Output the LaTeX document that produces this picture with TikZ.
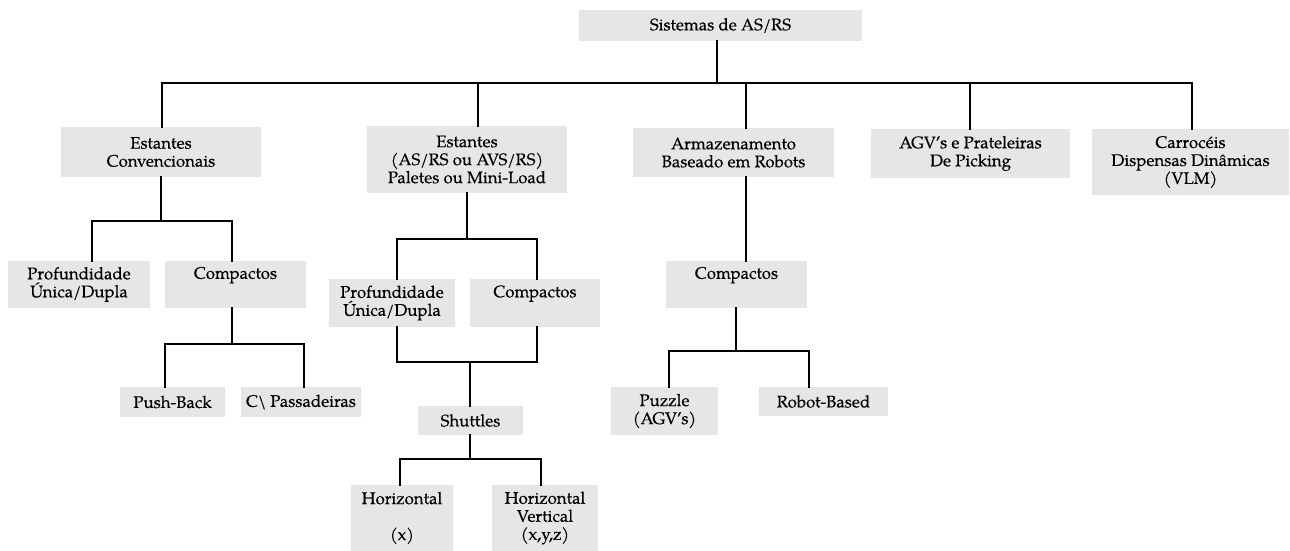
\documentclass[tikz,border=0pt]{standalone}
\usepackage{fontspec}
\setmainfont{texgyrepagella-regular.otf}[FakeBold=0.3]
\definecolor{boxgray}{RGB}{230,230,230}
\tikzset{
  box/.style={fill=boxgray, inner sep=0pt, align=center,
    font=\fontsize{16.8}{18}\selectfont},
  link/.style={line width=2.5pt, line join=miter, line cap=rect}
}
\newcommand{\bx}[6]{% name, cx, cy, w, h, text
  \node[box, minimum width=#4pt, minimum height=#5pt] (#1) at (#2,#3) {#6};}
\begin{document}
\begin{tikzpicture}[x=1pt,y=-1pt]
\useasboundingbox (0,0) rectangle (1290,551);
% level 0
\bx{root}{720.5}{25.5}{283}{31}{Sistemas de AS/RS}
% level 1
\bx{ec}{161}{152}{200}{50}{Estantes\\Convencionais}
\bx{es}{467}{159.5}{200}{67}{Estantes\\(AS/RS ou AVS/RS)\\Paletes ou Mini-Load}
\bx{ar}{733.5}{152.5}{201}{49}{Armazenamento\\Baseado em Robots}
\bx{agv}{970.5}{153.5}{199}{49}{AGV’s e Prateleiras\\De Picking}
\bx{car}{1190.5}{162}{197}{66}{Carrocéis\\Dispensas Dinâmicas\\(VLM)}
% left branch
\bx{p1}{79}{284.5}{142}{47}{Profundidade\\Única/Dupla}
\bx{c1}{235.5}{284.5}{141}{47}{Compactos\\\strut}
\bx{pb}{172.5}{402}{105}{30}{Push-Back}
\bx{cp}{301}{402}{120}{30}{C\textbackslash{} Passadeiras}
% middle branch
\bx{p2}{392}{303}{126}{48}{Profundidade\\Única/Dupla}
\bx{c2}{535}{303}{130}{48}{Compactos\\\strut}
\bx{sh}{470.5}{420.5}{105}{29}{Shuttles}
\bx{hx}{402}{518}{102}{66}{Horizontal\\\strut\\(x)}
\bx{hv}{545}{518}{106}{66}{Horizontal\\Vertical\\(x,y,z)}
% right branch
\bx{c3}{736.5}{284.5}{141}{47}{Compactos\\\strut}
\bx{pz}{664.5}{411}{107}{48}{Puzzle\\(AGV’s)}
\bx{rb}{823.5}{401.5}{129}{29}{Robot-Based}
% junction points
\coordinate (j0) at (717,83);
\coordinate (bL) at (162,83);
\coordinate (bR) at (1192,83);
\coordinate (b2) at (478,83);
\coordinate (b3) at (746,83);
\coordinate (b4) at (970,83);
\coordinate (e1) at (161,221);
\coordinate (k1) at (92,221);
\coordinate (k2) at (232,221);
\coordinate (f1) at (165,344);
\coordinate (f2) at (304,344);
\coordinate (f0) at (232,344);
\coordinate (g0) at (467,239);
\coordinate (g1) at (397,239);
\coordinate (g2) at (537,239);
\coordinate (h1) at (397,362);
\coordinate (h2) at (537,362);
\coordinate (h0) at (470,362);
\coordinate (s0) at (470,459);
\coordinate (s1) at (400,459);
\coordinate (s2) at (541,459);
\coordinate (r0) at (736,351);
\coordinate (r1) at (669,351);
\coordinate (r2) at (809,351);
% connectors
\draw[link] (j0 |- root.south) -- (j0);
\draw[link] (bL |- ec.north) -- (bL) -- (bR) -- (bR |- car.north);
\draw[link] (b2) -- (b2 |- es.north);
\draw[link] (b3) -- (b3 |- ar.north);
\draw[link] (b4) -- (b4 |- agv.north);
\draw[link] (e1 |- ec.south) -- (e1);
\draw[link] (k1 |- p1.north) -- (k1) -- (k2) -- (k2 |- c1.north);
\draw[link] (f0 |- c1.south) -- (f0);
\draw[link] (f1 |- pb.north) -- (f1) -- (f2) -- (f2 |- cp.north);
\draw[link] (g0 |- es.south) -- (g0);
\draw[link] (g1 |- p2.north) -- (g1) -- (g2) -- (g2 |- c2.north);
\draw[link] (h1 |- p2.south) -- (h1) -- (h2) -- (h2 |- c2.south);
\draw[link] (h0) -- (h0 |- sh.north);
\draw[link] (s0 |- sh.south) -- (s0);
\draw[link] (s1 |- hx.north) -- (s1) -- (s2) -- (s2 |- hv.north);
\draw[link] (b3 |- ar.south) -- (b3 |- c3.north);
\draw[link] (r0 |- c3.south) -- (r0);
\draw[link] (r1 |- pz.north) -- (r1) -- (r2) -- (r2 |- rb.north);
\end{tikzpicture}
\end{document}
